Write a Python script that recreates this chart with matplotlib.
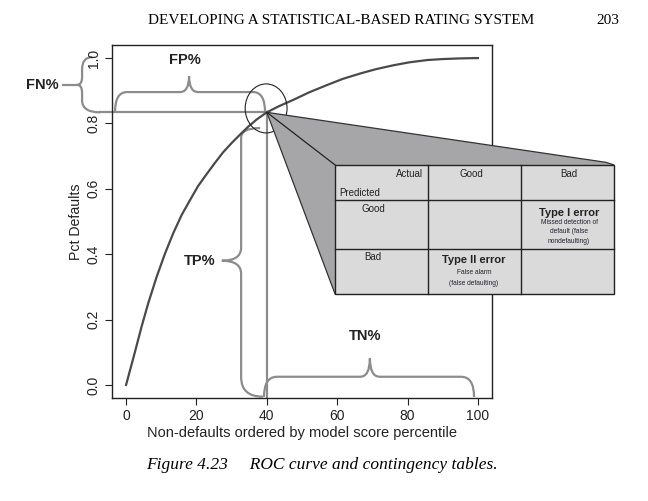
"""
ROC curve with FP/FN/TP/TN braces and the contingency table call-out.
"""

import matplotlib
matplotlib.use('Agg')
import matplotlib.pyplot as plt
from matplotlib.patches import Ellipse, PathPatch, Polygon, Rectangle
from matplotlib.path import Path

# ---------------------------------------------------------------------------
# Data
# ---------------------------------------------------------------------------
roc_x = [0, 2.5, 4.4, 6.3, 8.7, 11.1, 13.4, 15.8, 18.2, 20.5, 22.9, 25.3,
         27.6, 30.0, 32.4, 34.7, 37.1, 40, 43.5, 47.5, 52, 57, 61.5, 66.6,
         71, 76, 80.5, 85.6, 90, 95, 100]
roc_y = [0, 0.100, 0.178, 0.250, 0.331, 0.403, 0.464, 0.520, 0.566, 0.609,
         0.645, 0.680, 0.712, 0.740, 0.766, 0.790, 0.812, 0.834, 0.853,
         0.872, 0.895, 0.917, 0.936, 0.953, 0.966, 0.978, 0.987, 0.994,
         0.997, 0.999, 1.0]

cutoff_x = 40
cutoff_y = 0.834

x_ticks = [0, 20, 40, 60, 80, 100]
y_ticks = [0.0, 0.2, 0.4, 0.6, 0.8, 1.0]
y_tick_labels = ['0.0', '0.2', '0.4', '0.6', '0.8', '1.0']

col_heads = ['Good', 'Bad']
row_heads = ['Good', 'Bad']
type1_lines = ['Missed detection of', 'default (false', 'nondefaulting)']
type2_lines = ['False alarm', '(false defaulting)']

BRACE_C = '#8c8c8c'
SANS = ['Liberation Sans', 'DejaVu Sans']
SERIF = ['Liberation Serif', 'DejaVu Serif']

plt.rcParams['font.family'] = SANS


# ---------------------------------------------------------------------------
# Helpers
# ---------------------------------------------------------------------------

def hbrace(ax, x0, x1, yb, yf, xm, yp, rx, rm):
    """Horizontal curly brace: tips at yb, flat at yf, cusp at (xm, yp)."""
    verts = [(x0, yb), (x0, yf), (x0 + rx, yf),
             (xm - rm, yf), (xm, yf), (xm, yp),
             (xm, yf), (xm + rm, yf),
             (x1 - rx, yf), (x1, yf), (x1, yb)]
    codes = [Path.MOVETO, Path.CURVE3, Path.CURVE3,
             Path.LINETO, Path.CURVE3, Path.CURVE3,
             Path.CURVE3, Path.CURVE3,
             Path.LINETO, Path.CURVE3, Path.CURVE3]
    ax.add_patch(PathPatch(Path(verts, codes), fc='none', ec=BRACE_C,
                           lw=1.6, clip_on=False))


def vbrace(ax, xs, y0, x0tip, y1, x1tip, xp, ym, r0, r1, rm):
    """Vertical curly brace: spine at xs, cusp at (xp, ym)."""
    verts = [(x0tip, y0), (xs, y0), (xs, y0 + r0),
             (xs, ym - rm), (xs, ym), (xp, ym),
             (xs, ym), (xs, ym + rm),
             (xs, y1 - r1), (xs, y1), (x1tip, y1)]
    codes = [Path.MOVETO, Path.CURVE3, Path.CURVE3,
             Path.LINETO, Path.CURVE3, Path.CURVE3,
             Path.CURVE3, Path.CURVE3,
             Path.LINETO, Path.CURVE3, Path.CURVE3]
    ax.add_patch(PathPatch(Path(verts, codes), fc='none', ec=BRACE_C,
                           lw=1.6, clip_on=False))


# ---------------------------------------------------------------------------
# Figure
# ---------------------------------------------------------------------------
fig = plt.figure(figsize=(6.48, 5.01), dpi=100)
ax = fig.add_axes([112 / 648, 103 / 501, 380 / 648, 353 / 501])

ax.set_xlim(-4, 104)
ax.set_ylim(-0.04, 1.04)

# cut-off guide lines
ax.plot([-7.4, cutoff_x], [cutoff_y, cutoff_y], color=BRACE_C, lw=1.6,
        clip_on=False, zorder=2)
ax.plot([cutoff_x, cutoff_x], [cutoff_y, -0.04], color=BRACE_C, lw=1.6,
        zorder=2)

# braces
hbrace(ax, -3.15, 39.5, cutoff_y, 0.896, 17.9, 0.945, 3.4, 2.6)    # FP
hbrace(ax, 39.2, 98.9, -0.037, 0.025, 69.3, 0.082, 3.7, 2.8)       # TN
vbrace(ax, -12.5, cutoff_y, -7.4, 1.003, -9.6, -13.9, 0.918,
       0.037, 0.037, 0.025)                                         # FN
vbrace(ax, 32.7, -0.036, 38.9, 0.786, 38.1, 27.2, 0.380,
       0.06, 0.03, 0.04)                                            # TP
ax.plot([-17.9, -13.9], [0.918, 0.918], color=BRACE_C, lw=1.6,
        clip_on=False)

lbl = dict(fontsize=10.5, fontweight='bold', color='#222222')
ax.text(16.7, 0.995, 'FP%', ha='center', va='center', **lbl)
ax.text(-19.3, 0.918, 'FN%', ha='right', va='center', clip_on=False, **lbl)
ax.text(25.3, 0.380, 'TP%', ha='right', va='center', **lbl)
ax.text(67.9, 0.150, 'TN%', ha='center', va='center', **lbl)

# ROC curve
ax.plot(roc_x, roc_y, color='#4a4a4a', lw=1.6, zorder=3)

# circle round the cut-off point
ax.add_patch(Ellipse((39.8, 0.846), 11.9, 0.15, fc='none', ec='#222222',
                     lw=0.8, zorder=4))

# call-out beam and contingency table
tl, tc1, tc2, tr = 59.4, 85.8, 112.1, 138.7
tt, tr1, tr2, tb = 0.673, 0.566, 0.416, 0.278

beam = Polygon([(cutoff_x, cutoff_y), (136.4, 0.681), (tr, tt), (tl, tb)],
               closed=True, fc='#a6a6a8', ec='#333333', lw=0.9,
               clip_on=False, zorder=5)
ax.add_patch(beam)
ax.plot([cutoff_x, tl], [cutoff_y, tt], color='#222222', lw=0.9,
        clip_on=False, zorder=6)
ax.add_patch(Rectangle((tl, tb), tr - tl, tt - tb, fc='#dadada',
                       ec='#222222', lw=1.0, clip_on=False, zorder=6))
for xv in [tc1, tc2]:
    ax.plot([xv, xv], [tb, tt], color='#222222', lw=1.0, clip_on=False,
            zorder=7)
for yv in [tr1, tr2]:
    ax.plot([tl, tr], [yv, yv], color='#222222', lw=1.0, clip_on=False,
            zorder=7)

cell = dict(fontsize=7, color='#222222', clip_on=False, zorder=8)
ax.text(84.3, 0.645, 'Actual', ha='right', va='center', **cell)
ax.text(60.5, 0.588, 'Predicted', ha='left', va='center', **cell)
for xc, name in zip([98.2, 125.9], col_heads):
    ax.text(xc, 0.645, name, ha='center', va='center', **cell)
for yc, name in zip([0.538, 0.391], row_heads):
    ax.text(70.2, yc, name, ha='center', va='center', **cell)

ax.text(125.9, 0.527, 'Type I error', ha='center', va='center',
        fontsize=8, fontweight='bold', color='#222222', clip_on=False,
        zorder=8)
for yc, line in zip([0.498, 0.469, 0.440], type1_lines):
    ax.text(125.9, yc, line, ha='center', va='center', fontsize=4.8,
            color='#222233', clip_on=False, zorder=8)
ax.text(98.9, 0.382, 'Type II error', ha='center', va='center',
        fontsize=8, fontweight='bold', color='#222222', clip_on=False,
        zorder=8)
for yc, line in zip([0.343, 0.311], type2_lines):
    ax.text(98.9, yc, line, ha='center', va='center', fontsize=4.8,
            color='#222233', clip_on=False, zorder=8)

# axes styling (R look)
ax.set_xticks(x_ticks)
ax.set_yticks(y_ticks)
ax.set_yticklabels(y_tick_labels, rotation=90, va='center')
ax.tick_params(axis='both', direction='out', length=5, width=0.8,
               labelsize=10, color='#222222', labelcolor='#222222')
ax.tick_params(axis='x', pad=3)
ax.tick_params(axis='y', pad=3)
for sp in ax.spines.values():
    sp.set_linewidth(1.0)
    sp.set_color('#222222')

ax.set_xlabel('Non-defaults ordered by model score percentile',
              fontsize=10.5, labelpad=2, color='#222222')
ax.set_ylabel('Pct Defaults', fontsize=10.2, labelpad=3, color='#222222')

# page header and caption
fig.text(341 / 648, 1 - 20 / 501, 'DEVELOPING A STATISTICAL-BASED RATING SYSTEM',
         ha='center', va='center', fontsize=11, family=SERIF)
fig.text(608 / 648, 1 - 20 / 501, '203', ha='center', va='center',
         fontsize=11, family=SERIF)
fig.text(321.5 / 648, 1 - 465 / 501,
         'Figure 4.23     ROC curve and contingency tables.',
         ha='center', va='center', fontsize=12.5, style='italic',
         family=SERIF)

fig.savefig('out.png', dpi=100)
